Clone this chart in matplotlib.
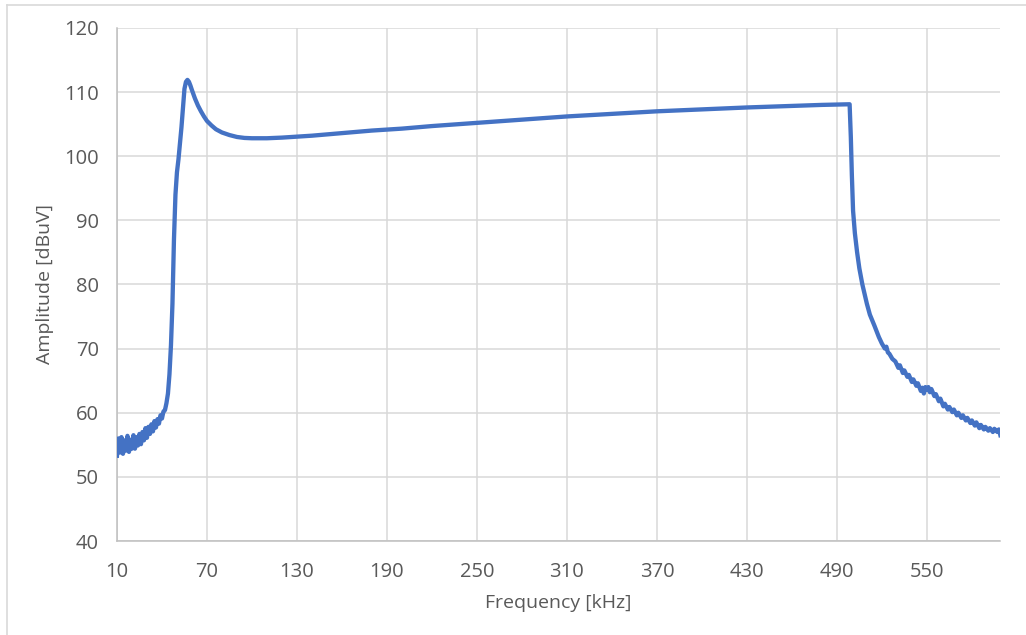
import matplotlib
matplotlib.use("Agg")
import matplotlib.pyplot as plt
from matplotlib.lines import Line2D

# frequency [kHz] and amplitude [dBuV]
freq = [10, 11, 12, 13, 14, 15, 16, 17, 18, 19, 20, 21, 22, 23, 24, 25, 26, 27, 28, 29,
        30, 31, 32, 33, 34, 35, 36, 37, 38, 39, 40, 41, 42, 43, 44, 45, 46, 47, 47.5, 48,
        49, 50, 51, 52, 53, 54, 55, 56, 57, 58, 59, 60, 62, 64, 66, 68, 70, 73, 76, 80,
        85, 90, 95, 100, 110, 120, 130, 140, 160, 180, 200, 220, 250, 280, 310, 340, 370, 400, 430, 460,
        480, 498.5, 499.3, 500, 500.8, 502, 503.5, 505, 507, 510, 512, 515, 518, 520, 522, 523, 524,
        525, 527, 529, 531, 532, 534, 535, 537, 538, 540, 541, 543, 544, 546, 547, 548, 549, 550,
        551, 552, 553, 555, 556, 558, 559, 561, 562, 564, 565, 567, 568, 570, 571, 573, 574, 576,
        577, 579, 580, 582, 583, 585, 586, 588, 589, 591, 592, 594, 595, 597, 598, 599]
amp = [53.3, 56.0, 53.8, 56.2, 53.6, 55.7, 54.1, 56.4, 53.9, 55.8, 54.4, 56.5, 54.4, 56.2, 54.9, 56.7, 55.1, 57.0, 55.7, 57.6,
       56.1, 57.8, 56.7, 58.2, 57.1, 58.7, 57.7, 59.0, 58.3, 59.6, 59.1, 60.2, 60.4, 61.5, 63.0, 66.0, 70.5, 77.0, 82.0, 87.0,
       94.0, 97.5, 99.5, 102.0, 104.5, 107.5, 110.5, 111.6, 111.9, 111.6, 111.0, 110.3, 109.0, 107.9, 107.0, 106.2, 105.5, 104.8, 104.2, 103.7,
       103.3, 103.0, 102.85, 102.8, 102.8, 102.9, 103.05, 103.2, 103.6, 104.0, 104.3, 104.7, 105.2, 105.7, 106.2, 106.6, 107.0, 107.3, 107.6, 107.85,
       108.0, 108.1, 103.0, 97.0, 91.5, 88.0, 85.0, 82.5, 80.0, 77.0, 75.3, 73.6, 71.8, 70.8, 70.0, 70.3, 69.4,
       69.2, 68.4, 68.0, 67.0, 67.4, 66.2, 66.6, 65.6, 65.9, 64.8, 65.2, 64.2, 64.6, 63.4, 63.9, 63.0, 64.0, 63.6,
       64.0, 63.2, 63.7, 62.6, 62.9, 61.8, 62.2, 61.0, 61.4, 60.5, 60.9, 60.1, 60.5, 59.6, 60.0, 59.2, 59.6, 58.8,
       59.2, 58.4, 58.8, 58.0, 58.5, 57.6, 58.1, 57.4, 57.8, 57.2, 57.6, 57.0, 57.5, 57.0, 57.4, 56.5]

x_ticks = [10, 70, 130, 190, 250, 310, 370, 430, 490, 550]
y_ticks = [40, 50, 60, 70, 80, 90, 100, 110, 120]

plt.rcParams['font.family'] = ['Open Sans', 'DejaVu Sans']

fig = plt.figure(figsize=(10.26, 6.35), dpi=100)
ax = fig.add_axes([0.114, 0.148, 0.861, 0.808])

ax.plot(freq, amp, color='#4472C4', linewidth=3.1, solid_joinstyle='round', zorder=3)

ax.set_xlim(10, 599)
ax.set_ylim(40, 120)
ax.set_xticks(x_ticks)
ax.set_yticks(y_ticks)
ax.grid(True, color='#D9D9D9', linewidth=1.1)
ax.set_axisbelow(True)

for s in ['top', 'right']:
    ax.spines[s].set_visible(False)
for s in ['left', 'bottom']:
    ax.spines[s].set_color('#BFBFBF')
    ax.spines[s].set_linewidth(1.1)

ax.tick_params(axis='both', length=0, labelsize=14.5, labelcolor='#595959')
ax.tick_params(axis='x', pad=15)
ax.tick_params(axis='y', pad=13)

ax.set_xlabel('Frequency [kHz]', fontsize=14, color='#595959', labelpad=9)
ax.set_ylabel('Amplitude [dBuV]', fontsize=14, color='#595959', labelpad=7)

# chart frame (top and left edges visible in the screenshot)
fig.add_artist(Line2D([7 / 1026, 7 / 1026], [0, 1 - 5 / 635], transform=fig.transFigure,
                      color='#D9D9D9', linewidth=1.2))
fig.add_artist(Line2D([7 / 1026, 1], [1 - 5 / 635, 1 - 5 / 635], transform=fig.transFigure,
                      color='#D9D9D9', linewidth=1.2))

fig.savefig('out.png', dpi=100)
